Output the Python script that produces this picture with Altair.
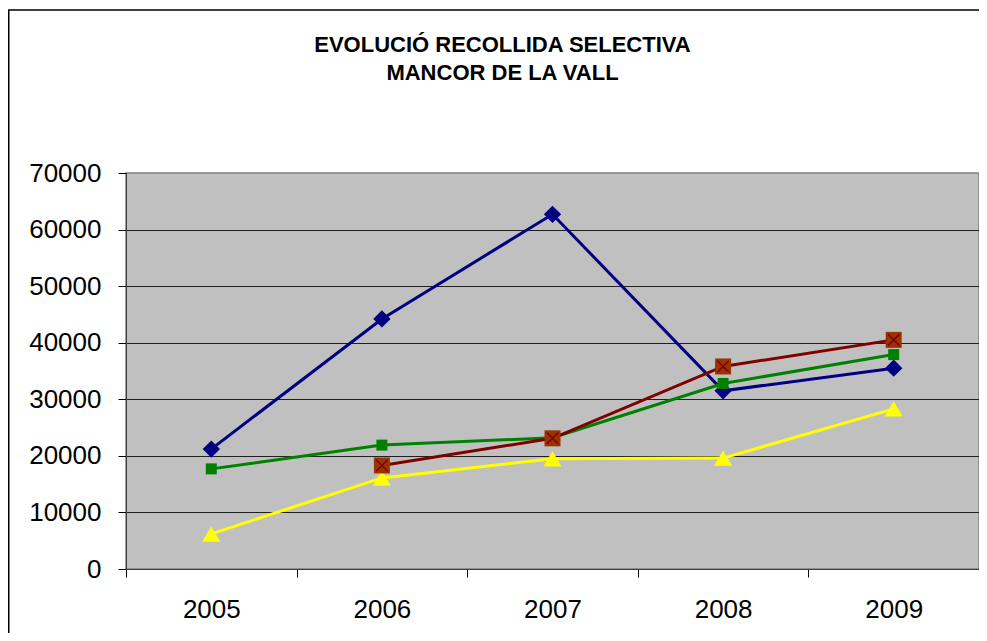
import altair as alt
import pandas as pd

years = ["2005", "2006", "2007", "2008", "2009"]
serie_blava = [21200, 44200, 62700, 31500, 35500]
serie_verda = [17700, 21900, 23200, 32800, 37900]
serie_groga = [6200, 16100, 19500, 19600, 28300]
serie_vermella = [None, 18300, 23100, 35800, 40500]
y_ticks = [0, 10000, 20000, 30000, 40000, 50000, 60000, 70000]
title_lines = ["EVOLUCIÓ RECOLLIDA SELECTIVA", "MANCOR DE LA VALL"]

W, H = 853, 396
PAD_L, PAD_T, PAD_R, PAD_B = 118, 165, 0, 64
FONT = "Liberation Sans"

def series_df(name, vals):
    df = pd.DataFrame({"any": years, "serie": name, "valor": vals})
    return df.dropna()

d_blava = series_df("Sèrie 1", serie_blava)
d_verda = series_df("Sèrie 2", serie_verda)
d_groga = series_df("Sèrie 3", serie_groga)
d_vermella = series_df("Sèrie 4", serie_vermella)

x_enc = alt.X(
    "any:O",
    sort=years,
    scale=alt.Scale(type="band", paddingInner=0, paddingOuter=0),
    axis=alt.Axis(
        title=None, labelAngle=0, tickBand="extent", tickSize=8,
        tickColor="#000000", domainColor="#404040", labelFont=FONT,
        labelFontSize=26, labelColor="#000000", labelPadding=19, grid=False,
    ),
)
y_enc = alt.Y(
    "valor:Q",
    scale=alt.Scale(domain=[0, 70000], nice=False, zero=True),
    axis=alt.Axis(
        title=None, values=y_ticks, tickSize=8, tickColor="#000000",
        domainColor="#404040", labelFont=FONT, labelFontSize=26,
        labelColor="#000000", labelPadding=17, grid=True,
        gridColor={"condition": {"test": "datum.value === 70000", "value": "#909090"}, "value": "#202020"},
        gridWidth=1, format="d",
    ),
)

def line(df, color):
    return alt.Chart(df).mark_line(color=color, strokeWidth=3).encode(x=x_enc, y=y_enc)

def pts(df, shape, size, fill):
    return alt.Chart(df).mark_point(shape=shape, size=size, filled=True, fill=fill,
                                    opacity=1, strokeWidth=0).encode(x=x_enc, y=y_enc)

one = pd.DataFrame({"a": [0]})
frame_left = alt.Chart(one).mark_rule(color="#000000", strokeWidth=1.5).encode(
    x=alt.value(-PAD_L + 0.75), y=alt.value(-PAD_T + 2), y2=alt.value(H + PAD_B)
)
frame_top = alt.Chart(one).mark_rule(color="#000000", strokeWidth=1.5).encode(
    x=alt.value(-PAD_L), x2=alt.value(W + PAD_R), y=alt.value(-PAD_T + 2)
)

tri = "M0,-0.85L1,0.85L-1,0.85Z"
xmark = "M-0.72,-0.72L0.72,0.72M0.72,-0.72L-0.72,0.72"

layers = [
    line(d_blava, "#000080"),
    line(d_verda, "#008000"),
    line(d_groga, "#FFFF00"),
    line(d_vermella, "#800000"),
    pts(d_blava, "diamond", 300, "#000080"),
    pts(d_verda, "square", 121, "#008000"),
    pts(d_groga, tri, 330, "#FFFF00"),
    pts(d_vermella, "square", 256, "#993300"),
    alt.Chart(d_vermella).mark_point(shape=xmark, size=256, filled=False,
                                     stroke="#800000", strokeWidth=1.5, opacity=1
                                     ).encode(x=x_enc, y=y_enc),
    frame_left,
    frame_top,
]

chart = alt.layer(*layers).properties(
    width=W,
    height=H,
    padding={"left": PAD_L, "top": PAD_T, "right": PAD_R, "bottom": PAD_B},
    autosize=alt.AutoSizeParams(type="none"),
    title=alt.TitleParams(
        text=title_lines, font=FONT, fontSize=22, fontWeight="bold",
        color="#000000", anchor="middle", frame="group", dx=-50,
        offset=-76, lineHeight=28,
    ),
    background="#FFFFFF",
).configure_view(
    fill="#C0C0C0", stroke="#808080", strokeWidth=1.5
)

chart.save("out.html", embed_options={"renderer": "svg", "actions": False})
